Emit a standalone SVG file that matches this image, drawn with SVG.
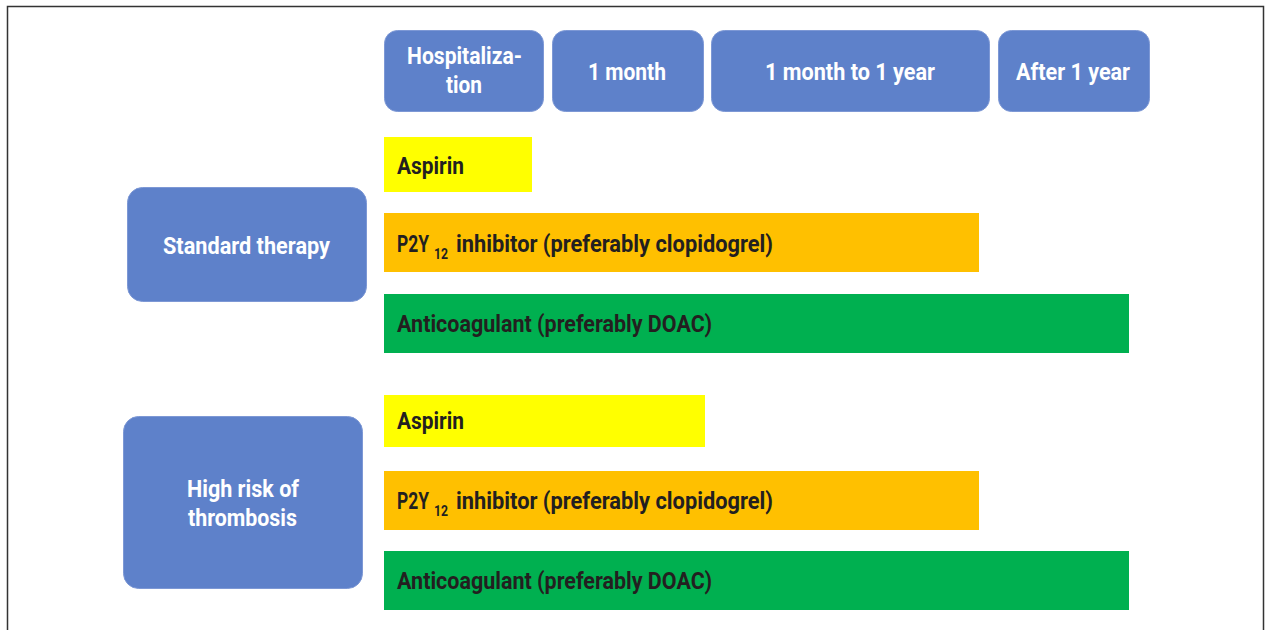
<svg xmlns="http://www.w3.org/2000/svg" width="1266" height="630" viewBox="0 0 1266 630">
  <style>
    .frame { fill: none; stroke: #333333; stroke-width: 1.5; }
    .blue { fill: #5E81CA; stroke: #7D98D5; stroke-width: 1; }
    .hdr { font-family: Roboto, "Liberation Sans", sans-serif; font-weight: 700; font-size: 23px; fill: #FFFFFF; }
    .lbl { font-family: Roboto, "Liberation Sans", sans-serif; font-weight: 700; font-size: 23px; fill: #231F20; }
    .sub { font-size: 14px; }
    .asp { fill: #FFFF00; }
    .p2y { fill: #FFC000; }
    .ac { fill: #00B050; }
  </style>

  <rect width="1266" height="630" fill="#FFFFFF"/>
  <path class="frame" d="M7.5 640 V6.5 H1263.5 V640"/>

  <!-- timeline header -->
  <g id="hdr-hospitalization">
    <rect class="blue" x="384.5" y="30.5" width="159" height="81" rx="13"/>
    <text class="hdr" x="407" y="64" textLength="115" lengthAdjust="spacingAndGlyphs">Hospitaliza-</text>
    <text class="hdr" x="446" y="93" textLength="36" lengthAdjust="spacingAndGlyphs">tion</text>
  </g>
  <g id="hdr-1month">
    <rect class="blue" x="552.5" y="30.5" width="151" height="81" rx="13"/>
    <text class="hdr" x="588" y="80" textLength="78" lengthAdjust="spacingAndGlyphs">1 month</text>
  </g>
  <g id="hdr-1month-1year">
    <rect class="blue" x="711.5" y="30.5" width="278" height="81" rx="13"/>
    <text class="hdr" x="765" y="80" textLength="170" lengthAdjust="spacingAndGlyphs">1 month to 1 year</text>
  </g>
  <g id="hdr-after-1year">
    <rect class="blue" x="998.5" y="30.5" width="151" height="81" rx="13"/>
    <text class="hdr" x="1016" y="80" textLength="114" lengthAdjust="spacingAndGlyphs">After 1 year</text>
  </g>

  <!-- regimen groups -->
  <g id="standard-therapy">
    <rect class="blue" x="127.5" y="187.5" width="239" height="114" rx="15"/>
    <text class="hdr" x="163" y="254" textLength="167" lengthAdjust="spacingAndGlyphs">Standard therapy</text>
  </g>
  <g id="high-risk">
    <rect class="blue" x="123.5" y="416.5" width="239" height="172" rx="15"/>
    <text class="hdr" x="187" y="497" textLength="112" lengthAdjust="spacingAndGlyphs">High risk of</text>
    <text class="hdr" x="188" y="526" textLength="109" lengthAdjust="spacingAndGlyphs">thrombosis</text>
  </g>

  <!-- standard therapy bars -->
  <g id="std-aspirin">
    <rect class="asp" x="384" y="137" width="148" height="55"/>
    <text class="lbl" x="397" y="174" textLength="67" lengthAdjust="spacingAndGlyphs">Aspirin</text>
  </g>
  <g id="std-p2y12">
    <rect class="p2y" x="384" y="213" width="595" height="59"/>
    <text class="lbl" y="252"><tspan x="397" textLength="32" lengthAdjust="spacingAndGlyphs">P2Y</tspan><tspan class="sub" x="434" dy="7" textLength="14" lengthAdjust="spacingAndGlyphs">12</tspan><tspan x="456" dy="-7" textLength="317" lengthAdjust="spacingAndGlyphs">inhibitor (preferably clopidogrel)</tspan></text>
  </g>
  <g id="std-anticoagulant">
    <rect class="ac" x="384" y="294" width="745" height="59"/>
    <text class="lbl" x="397" y="332" textLength="315" lengthAdjust="spacingAndGlyphs">Anticoagulant (preferably DOAC)</text>
  </g>

  <!-- high-risk bars -->
  <g id="hr-aspirin">
    <rect class="asp" x="384" y="395" width="321" height="52"/>
    <text class="lbl" x="397" y="429" textLength="67" lengthAdjust="spacingAndGlyphs">Aspirin</text>
  </g>
  <g id="hr-p2y12">
    <rect class="p2y" x="384" y="471" width="595" height="59"/>
    <text class="lbl" y="509"><tspan x="397" textLength="32" lengthAdjust="spacingAndGlyphs">P2Y</tspan><tspan class="sub" x="434" dy="7" textLength="14" lengthAdjust="spacingAndGlyphs">12</tspan><tspan x="456" dy="-7" textLength="317" lengthAdjust="spacingAndGlyphs">inhibitor (preferably clopidogrel)</tspan></text>
  </g>
  <g id="hr-anticoagulant">
    <rect class="ac" x="384" y="551" width="745" height="59"/>
    <text class="lbl" x="397" y="589" textLength="315" lengthAdjust="spacingAndGlyphs">Anticoagulant (preferably DOAC)</text>
  </g>

  <g id="connectors"/>
</svg>
